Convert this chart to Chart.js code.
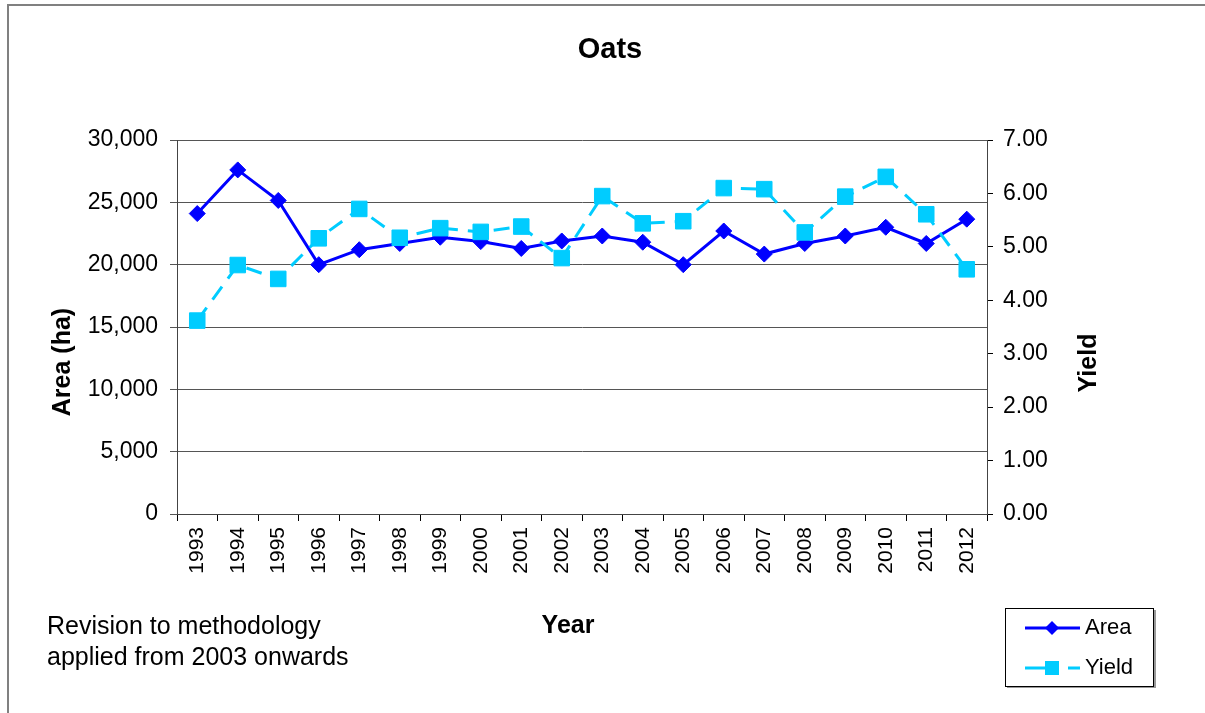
<!DOCTYPE html>
<html>
<head>
<meta charset="utf-8">
<script src="https://cdn.jsdelivr.net/npm/chart.js@4/dist/chart.umd.min.js"></script>
<style>
  html, body { margin: 0; padding: 0; background: #fff; }
  #wrap { width: 1205px; height: 713px; position: relative; }
</style>
</head>
<body>
<div id="wrap"><canvas id="chart" width="1205" height="713"></canvas></div>
<script>
// ── data ──
const years = ['1993', '1994', '1995', '1996', '1997', '1998', '1999', '2000', '2001', '2002',
  '2003', '2004', '2005', '2006', '2007', '2008', '2009', '2010', '2011', '2012'];
const areaHa = [24100, 27600, 25150, 20000, 21200, 21700, 22200, 21850, 21300, 21900,
  22300, 21800, 20000, 22700, 20850, 21700, 22300, 23000, 21700, 23650];
const yieldVals = [3.62, 4.66, 4.40, 5.16, 5.71, 5.17, 5.35, 5.28, 5.38, 4.79,
  5.95, 5.44, 5.48, 6.10, 6.08, 5.27, 5.94, 6.31, 5.61, 4.58];

const FONT = "'Liberation Sans', Arial, sans-serif";
const AREA_COLOR = '#0000ff';
const YIELD_COLOR = '#00ccff';

// texts, frame and legend drawn on top of the chart
const decor = {
  id: 'decor',
  afterDraw(chart) {
    const ctx = chart.ctx;
    ctx.save();

    // outer frame (top and left edges visible)
    ctx.strokeStyle = '#808080';
    ctx.lineWidth = 2;
    ctx.beginPath();
    ctx.moveTo(8, 713);
    ctx.lineTo(8, 5);
    ctx.lineTo(1205, 5);
    ctx.stroke();

    ctx.fillStyle = '#000';
    ctx.textBaseline = 'middle';

    ctx.font = `bold 29px ${FONT}`;
    ctx.textAlign = 'center';
    ctx.fillText('Oats', 610, 50);

    ctx.font = `bold 25px ${FONT}`;
    ctx.fillText('Year', 568, 626);

    ctx.save();
    ctx.translate(63, 362);
    ctx.rotate(-Math.PI / 2);
    ctx.fillText('Area (ha)', 0, 0);
    ctx.restore();

    ctx.save();
    ctx.translate(1089, 363);
    ctx.rotate(-Math.PI / 2);
    ctx.fillText('Yield', 0, 0);
    ctx.restore();

    ctx.font = `25px ${FONT}`;
    ctx.textAlign = 'left';
    ctx.fillText('Revision to methodology', 47, 627);
    ctx.fillText('applied from 2003 onwards', 47, 658);

    // legend box
    ctx.fillStyle = '#999';
    ctx.fillRect(1007, 686, 148, 2);
    ctx.fillRect(1154, 610, 2, 78);
    ctx.fillStyle = '#fff';
    ctx.fillRect(1005, 608, 149, 79);
    ctx.strokeStyle = '#000';
    ctx.lineWidth = 1;
    ctx.strokeRect(1005.5, 608.5, 148, 78);

    ctx.lineWidth = 3;
    ctx.strokeStyle = AREA_COLOR;
    ctx.beginPath();
    ctx.moveTo(1025, 628);
    ctx.lineTo(1080, 628);
    ctx.stroke();
    ctx.fillStyle = AREA_COLOR;
    ctx.beginPath();
    ctx.moveTo(1052, 621);
    ctx.lineTo(1059, 628);
    ctx.lineTo(1052, 635);
    ctx.lineTo(1045, 628);
    ctx.closePath();
    ctx.fill();

    ctx.strokeStyle = YIELD_COLOR;
    ctx.beginPath();
    ctx.moveTo(1025, 668);
    ctx.lineTo(1046, 668);
    ctx.moveTo(1068, 668);
    ctx.lineTo(1080, 668);
    ctx.stroke();
    ctx.fillStyle = YIELD_COLOR;
    ctx.fillRect(1045, 661, 14, 14);

    ctx.fillStyle = '#000';
    ctx.font = `22px ${FONT}`;
    ctx.fillText('Area', 1085, 628);
    ctx.fillText('Yield', 1085, 668);

    ctx.restore();
  }
};

new Chart(document.getElementById('chart').getContext('2d'), {
  type: 'line',
  data: {
    labels: years,
    datasets: [
      {
        label: 'Area',
        data: areaHa,
        yAxisID: 'y',
        order: 1,
        borderColor: AREA_COLOR,
        backgroundColor: AREA_COLOR,
        borderWidth: 3,
        pointStyle: 'rectRot',
        pointRadius: 8,
        pointBorderWidth: 1,
        tension: 0,
      },
      {
        label: 'Yield',
        data: yieldVals,
        yAxisID: 'y1',
        order: 0,
        borderColor: YIELD_COLOR,
        backgroundColor: YIELD_COLOR,
        borderWidth: 3,
        borderDash: [16, 10],
        pointStyle: 'rect',
        pointRadius: 11,
        pointBorderWidth: 1,
        tension: 0,
      },
    ],
  },
  options: {
    responsive: false,
    animation: false,
    layout: { padding: { top: 140, left: 77, right: 118, bottom: 99 } },
    plugins: {
      legend: { display: false },
      tooltip: { enabled: false },
      title: { display: false },
    },
    scales: {
      x: {
        offset: true,
        afterFit: (s) => { s.height = 100; },
        grid: { drawOnChartArea: false, offset: true, tickLength: 7, color: '#000' },
        border: { color: '#444' },
        ticks: {
          color: '#000',
          autoSkip: false,
          maxRotation: 90,
          minRotation: 90,
          padding: 6,
          font: { family: FONT, size: 21 },
        },
      },
      y: {
        position: 'left',
        min: 0,
        max: 30000,
        afterFit: (s) => { s.width = 100; },
        grid: { color: '#555', tickLength: 7 },
        border: { color: '#444' },
        ticks: {
          stepSize: 5000,
          color: '#000',
          padding: 12,
          font: { family: FONT, size: 23 },
          callback: (v) => v.toLocaleString('en-US'),
        },
      },
      y1: {
        position: 'right',
        min: 0,
        max: 7,
        afterFit: (s) => { s.width = 100; },
        grid: { drawOnChartArea: false, tickLength: 6, color: '#000' },
        border: { color: '#444' },
        ticks: {
          stepSize: 1,
          color: '#000',
          padding: 10,
          font: { family: FONT, size: 23 },
          callback: (v) => v.toFixed(2),
        },
      },
    },
  },
  plugins: [decor],
});
</script>
</body>
</html>
